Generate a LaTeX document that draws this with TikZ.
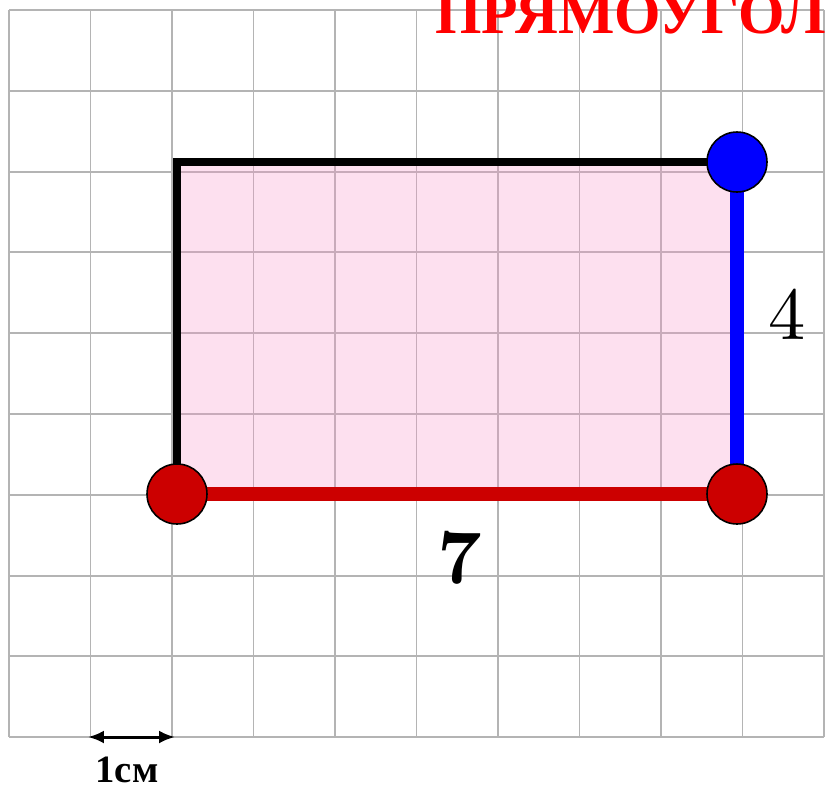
\documentclass[tikz,border=0pt]{standalone}
\usepackage{fontspec}
\usepackage{tikz}
\usetikzlibrary{arrows.meta, positioning}
\newfontfamily\timesfont{Liberation Serif}
\definecolor{gridgray}{RGB}{180,180,180}
\definecolor{areapink}{RGB}{248,152,202}
\definecolor{ptred}{RGB}{204,0,0}

\begin{document}
\begin{tikzpicture}[
    x=0.02cm, y=-0.02cm,
    gridline/.style={draw=gridgray, line width=1.1pt},
    point/.style={circle, draw=black, line width=0.9pt, minimum size=1.2cm, inner sep=0pt},
    side/.style={line width=8.5pt},
    >={Latex[length=0.32cm,width=0.26cm]}
]
    \useasboundingbox (0,0) rectangle (825,789);
    \clip (0,0) rectangle (825,789);

    % grid
    \foreach \i in {0,...,10}
        \draw[gridline] (9+81.5*\i,10) -- (9+81.5*\i,737);
    \foreach \j in {0,...,9}
        \draw[gridline] (9,10+80.8*\j) -- (824,10+80.8*\j);

    % title
    \node[anchor=base west, inner sep=0pt, text=red, font=\timesfont\bfseries\fontsize{34}{40}\selectfont]
        (title) at (435,33) {ПРЯМОУГОЛЬНИК};

    % rectangle
    \coordinate (pA) at (177,494);
    \coordinate (pB) at (737,494);
    \coordinate (pC) at (737,162);
    \coordinate (D) at (177,162);
    \fill[areapink, fill opacity=0.3] (pA) rectangle (pC);
    \draw[line width=4.5pt, miter limit=10] (pA) -- (D) -- (pC);
    \draw[side, ptred] (pA) -- (pB);
    \draw[side, blue] (pB) -- (pC);
    \node[point, fill=ptred] (A) at (pA) {};
    \node[point, fill=ptred] (B) at (pB) {};
    \node[point, fill=blue] (C) at (pC) {};

    % labels
    \node (h) at (787,314) {\scalebox{4.24}{4}};
    \node (w) at (460,558) {\scalebox{4.4}{\bfseries 7}};

    % scale
    \coordinate (s1) at (88,737);
    \coordinate (s2) at (175,737);
    \draw[<->, line width=1.7pt] (s1) -- (s2);
    \node[font=\timesfont\bfseries\fontsize{22}{26}\selectfont] (unit) at (127,770) {1см};
\end{tikzpicture}
\end{document}
